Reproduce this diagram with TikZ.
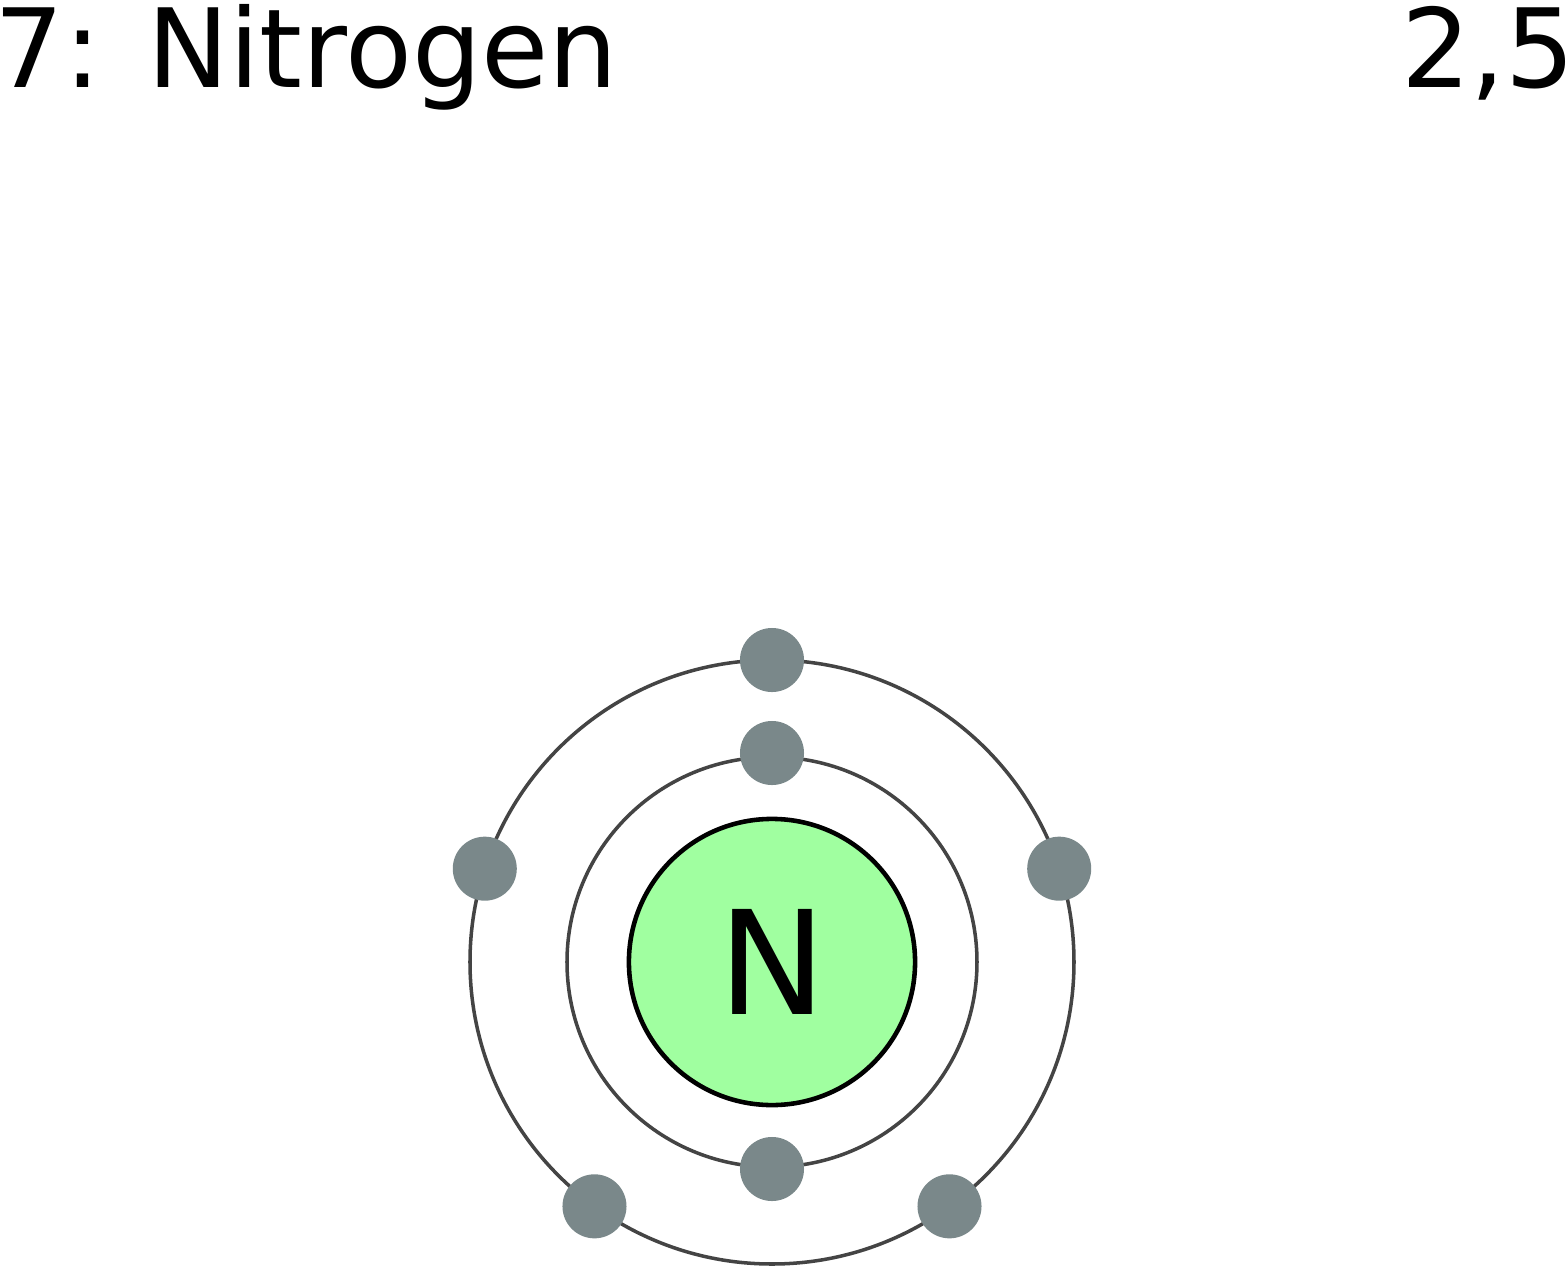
\documentclass[tikz,border=0pt]{standalone}
\usepackage{fontspec}
\setmainfont{DejaVu Sans}
\definecolor{nucleus}{HTML}{A0FFA0}
\definecolor{electron}{HTML}{7A888A}
\definecolor{shell}{HTML}{444444}
\begin{document}
\begin{tikzpicture}[x=0.01cm,y=-0.01cm,
	orbit/.style={draw=shell,line width=1pt},
	elec/.style={circle,fill=electron,minimum size=0.64cm,inner sep=0pt}]
	\useasboundingbox (0,0) rectangle (1568,1266);
	\node[anchor=base west,inner sep=0pt,font=\fontsize{31.1}{36}\selectfont] (title) at (-6,87) {7: Nitrogen};
	\node[anchor=base east,inner sep=0pt,font=\fontsize{31.1}{36}\selectfont] (config) at (1576,87) {2,5};
	\draw[orbit] (772,962) circle (302);
	\draw[orbit] (772,962) circle (205);
	\node[circle,draw=black,line width=1.3pt,fill=nucleus,minimum size=2.86cm,inner sep=0pt,font=\fontsize{41}{48}\selectfont] (N) at (772,962) {N};
	\node[elec] (e1) at (772,753) {};
	\node[elec] (e2) at (772,1169) {};
	\foreach \a [count=\i from 3] in {90,162,234,306,18}
	\node[elec] (e\i) at ([shift={(772,962)}]-\a:302) {};
\end{tikzpicture}
\end{document}
